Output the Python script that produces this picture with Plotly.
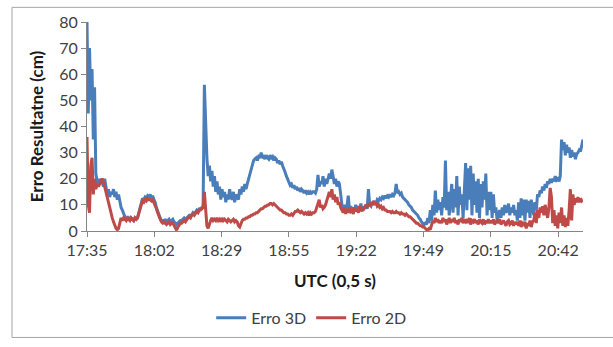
import plotly.graph_objects as go

# Sample step (minutes) and axis labels
step_min = 0.5
tick_labels = ["17:35", "18:02", "18:29", "18:55", "19:22", "19:49", "20:15", "20:42"]
tick_spacing_min = 80 / 3  # 26.67 min between labelled ticks

erro_3d = [
    80, 45, 70, 50, 62, 35, 55, 22, 19, 17, 20, 18, 19, 17, 20, 16, 14, 16, 13, 15,
    14, 16, 13, 15, 12, 14, 11, 9, 8, 6.5, 5.5, 5, 4.5, 5, 4, 5, 4.5, 4, 5, 4.5,
    5, 7, 9, 11, 12.5, 12, 13, 12.5, 13.5, 13, 14, 12.5, 13.5, 12, 11, 9, 7.5, 6, 5, 4,
    4, 3.5, 4.5, 3.5, 4, 4.5, 3.5, 4, 4.5, 3.5, 3, 2.5, 3, 3.5, 4, 4, 4.5, 5, 4.5, 5,
    5.5, 6, 5.5, 6.5, 7, 6.5, 7.5, 8, 7.5, 8.5, 8.5, 9, 9.5, 56, 40, 28, 21, 25, 19, 23,
    17, 21, 15, 19, 14, 17, 12, 16, 13, 15, 11, 14, 12, 16, 13, 12, 15, 11, 14, 13,
    12, 16, 14, 17, 15, 18, 16, 18, 20, 22, 24, 25.5, 27, 27.5, 28, 27, 28.5, 28, 30, 28,
    28.5, 27.5, 29, 28, 27.5, 29, 28, 28.5, 27, 28, 27.5, 26, 27, 25.5, 26.5, 25, 24, 22.5, 21, 20,
    19, 17.5, 18, 16.5, 17.5, 16, 17, 15.5, 16.5, 15, 16, 15.5, 14.5, 15.5, 14.5, 15, 14, 15, 14.5, 15,
    15, 14.5, 16, 21.5, 17, 19, 18, 21, 17, 20, 18, 20, 22, 20, 23.5, 21, 18, 20, 17, 19,
    18, 14, 10, 8.5, 10, 8, 9.5, 13.5, 8, 9.5, 7.5, 9, 8, 10, 7.5, 9.5, 8, 10.5, 7.5, 9,
    9, 10, 8.5, 16, 10, 9.5, 11, 10, 11.5, 10.5, 12, 11.5, 12.5, 12, 13, 12.5, 13.5, 12.5, 13.5, 13,
    14, 13, 14, 13.5, 14.5, 18, 14.5, 15, 14, 14.5, 13, 12.5, 12, 11.5, 11, 10, 9.5, 9, 8, 7.5,
    7, 6.5, 6, 5, 4.5, 3.5, 3, 2.5, 3, 2.5, 5, 3, 8, 4, 10, 6, 15.5, 7, 12, 8,
    11, 6, 13, 9, 27, 8, 15, 6, 12, 18, 7, 16, 9, 21, 6, 17, 10, 14, 5, 19,
    26, 8, 24, 12, 25, 6, 22, 10, 19, 7, 20, 5, 18, 9, 19, 12, 22, 6, 15, 8,
    15, 5, 14, 7, 9, 4, 6, 8, 5, 9, 6, 10, 7, 8, 10.5, 6, 9, 7, 10, 6,
    8, 4, 11, 5, 12.5, 6, 12, 4, 12, 7, 11.5, 5, 12, 8, 6, 11, 8, 14, 13, 15.5,
    14.5, 17, 15.5, 18, 16.5, 19, 18, 20, 18.5, 20, 19, 21, 19.5, 20, 19, 21, 35, 31, 34, 29,
    33, 30, 32, 28, 31, 28.5, 30, 27.5, 29.5, 30, 31, 30.5, 33, 35,
]

erro_2d = [
    36, 10, 7, 25, 28, 14, 20, 16, 18, 17, 18, 19, 20, 19, 17, 15, 13, 10, 8, 6.5,
    5, 3.5, 2, 1, 0.5, 1, 3, 5, 4, 5, 4.5, 4, 5, 4.5, 4, 5, 4.5, 4, 5, 4.5,
    5, 7, 8.5, 10, 11.5, 11, 12, 11.5, 12.5, 12, 12, 11.5, 12, 11, 10, 8.5, 7, 5.5, 4.5, 3.5,
    3, 3.5, 3, 2.5, 3, 3.5, 2.5, 3, 3, 2, 1, 0.3, 1.5, 2.5, 3, 3, 3.5, 4, 3.5, 4.5,
    5, 5.5, 5, 6, 6.5, 6, 7, 7.5, 7, 8, 8, 8.5, 9, 15, 6, 2, 1, 3, 4, 5,
    4, 4.5, 4, 5, 4, 4.5, 3.5, 5, 4, 4.5, 4, 3.5, 4.5, 4, 3.5, 4, 4.5, 3.5, 4, 3.5,
    2, 1.5, 3, 4, 4.5, 4.5, 5, 5, 5.5, 5.5, 6, 6, 6.5, 6.5, 7, 7, 7.5, 8, 8.5, 8.5,
    9, 9.5, 9.5, 10, 10, 10.5, 10.5, 10, 10.5, 10, 9.5, 9, 8.5, 8, 8, 7.5, 7, 7, 6.5, 6.5,
    6, 6, 6.5, 6, 7, 7.5, 7.5, 8, 7.5, 7, 7.5, 7, 6.5, 7, 6.5, 7, 6, 7, 6.5, 7,
    7, 7.5, 9, 11, 12, 9, 10, 8.5, 9, 10, 12, 14, 15, 13, 16, 12, 14, 11, 13, 10,
    11, 9, 8, 7, 9, 6.5, 8.5, 7, 9, 7.5, 8, 6.5, 9, 7.5, 8.5, 7, 9.5, 7.5, 9, 8,
    9, 10, 9, 10.5, 9.5, 11, 10, 11.5, 10, 11, 9.5, 10, 9, 9.5, 8.5, 9, 8, 8, 7.5, 7.5,
    7.5, 7, 7.5, 7, 7, 7.5, 7, 7, 6.5, 7, 6.5, 6.5, 6, 6.5, 6, 5.5, 5.5, 5, 4.5, 4,
    3.5, 3, 3, 2.5, 2, 2, 1.5, 1.5, 1, 0.5, 0.5, 1, 0.5, 2, 4, 3, 5, 3.5, 4.5, 3,
    4, 3, 5, 3.5, 4.5, 2.5, 4, 5, 3, 4.5, 3.5, 5, 3, 4, 2.5, 4.5, 3.5, 5, 3, 4,
    3.5, 4.5, 3, 5, 2.5, 4, 3.5, 4.5, 3, 4, 2.5, 4.5, 3.5, 3, 4.5, 2.5, 4, 3, 4.5, 3,
    4, 3, 4.5, 2.5, 3.5, 4, 3, 4.5, 2.5, 3.5, 4, 3, 2, 3.5, 4, 2.5, 3, 4, 2, 3.5,
    2.5, 3.5, 2, 4, 1.5, 3, 2.5, 3.5, 1, 3, 2, 4, 1.5, 3.5, 4, 7, 3, 8, 5, 9,
    7, 9.5, 6, 10, 8, 5, 9, 16.5, 13, 3, 8, 2, 6, 1, 7, 3, 9, 2, 6, 1.5,
    5, 2, 8, 16, 4, 14, 10, 12.5, 11, 13, 11, 12.5, 11.5, 12,
]

t_3d = [i * step_min for i in range(len(erro_3d))]
t_2d = [i * step_min for i in range(len(erro_2d))]
tick_vals = [i * tick_spacing_min for i in range(len(tick_labels))]
t_end = (len(erro_3d) - 1) * step_min

blue = "#4a7ebb"
red = "#be4b48"
axis_gray = "#868686"
text_gray = "#404040"

fig = go.Figure()
fig.add_trace(go.Scatter(x=t_3d, y=erro_3d, mode="lines", name="Erro 3D",
                         line=dict(color=blue, width=3)))
fig.add_trace(go.Scatter(x=t_2d, y=erro_2d, mode="lines", name="Erro 2D",
                         line=dict(color=red, width=3)))

L, R, T, B = 87, 30, 22, 111
W, H = 613, 347
pw, ph = W - L - R, H - T - B

def px(x):
    return (x - L) / pw

def py(y):
    return (H - B - y) / ph

fig.update_layout(
    width=W, height=H,
    margin=dict(l=L, r=R, t=T, b=B),
    paper_bgcolor="white", plot_bgcolor="white",
    font=dict(family="Lato, Liberation Sans, sans-serif", size=16, color=text_gray),
    showlegend=True,
    legend=dict(orientation="h", x=0.452, xanchor="center", y=py(325), yanchor="middle",
                font=dict(size=16, color=text_gray), itemwidth=30, tracegroupgap=0),
    xaxis=dict(range=[0, t_end], tickvals=tick_vals, ticktext=tick_labels,
               showgrid=False, zeroline=False, showline=True, linecolor=axis_gray,
               linewidth=1, ticks="outside", ticklen=5, tickcolor=axis_gray,
               tickfont=dict(size=16, color=text_gray),
               title=dict(text="<b>UTC (0,5 s)</b>", font=dict(size=17, color="#1a1a1a"),
                          standoff=16)),
    yaxis=dict(range=[0, 80], dtick=10, showgrid=False, zeroline=False, showline=True,
               linecolor=axis_gray, linewidth=1, ticks="outside", ticklen=5,
               tickcolor=axis_gray, tickfont=dict(size=16, color=text_gray),
               title=dict(text="<b>Erro Resultatne (cm)</b>",
                          font=dict(size=17, color="#1a1a1a"), standoff=11)),
    shapes=[dict(type="rect", xref="paper", yref="paper",
                 x0=px(12), x1=px(625), y0=py(345), y1=py(7),
                 line=dict(color="#a6a6a6", width=1), fillcolor="rgba(0,0,0,0)",
                 layer="below")],
)

fig.write_html("out.html")
